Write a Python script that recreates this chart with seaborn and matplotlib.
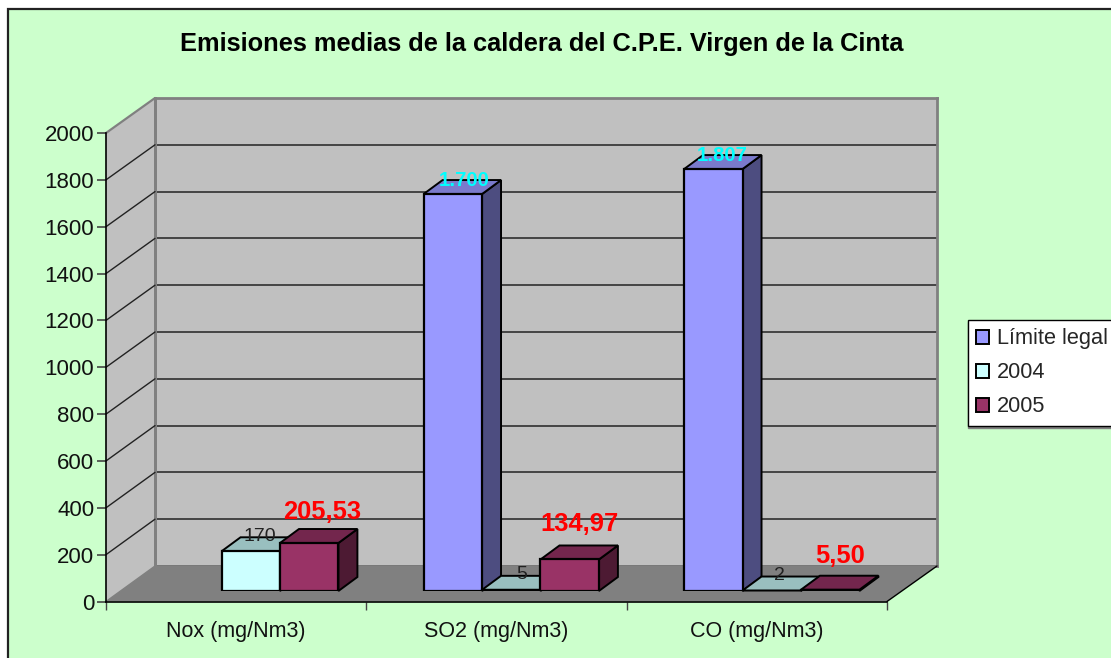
import matplotlib
matplotlib.use("Agg")
import numpy as np
import pandas as pd
import seaborn as sns
import matplotlib.pyplot as plt
from matplotlib.patches import Polygon, Rectangle, Patch
from matplotlib.lines import Line2D
from matplotlib.transforms import IdentityTransform

# Data
categories = ["Nox (mg/Nm3)", "SO2 (mg/Nm3)", "CO (mg/Nm3)"]
series_names = ["Límite legal", "2004", "2005"]
limite_legal = [np.nan, 1700, 1807]
year_2004 = [170, 5, 2]
year_2005 = [205.53, 134.97, 5.50]
labels_limite = ["", "1.700", "1.807"]
labels_2004 = ["170", "5", "2"]
labels_2005 = ["205,53", "134,97", "5,50"]
y_ticks = list(range(0, 2001, 200))
title = "Emisiones medias de la caldera del C.P.E. Virgen de la Cinta"

# Colours
face_colors = ["#9999FF", "#CCFFFF", "#993366"]
top_colors = ["#7A7ACC", "#99BFBF", "#73264D"]
side_colors = ["#4D4D80", "#668080", "#4D1A33"]

W, H = 1111, 658
BAR_DX, BAR_DY = 19, 14

sns.set_theme(style="white")
plt.rcParams["font.family"] = ["Liberation Sans", "DejaVu Sans"]

df = pd.DataFrame({
    "categoria": categories * 3,
    "serie": np.repeat(series_names, 3),
    "valor": limite_legal + year_2004 + year_2005,
})

fig = plt.figure(figsize=(W / 100, H / 100), dpi=100, facecolor="white")
fig.add_artist(Rectangle((8 / W, -0.05), 1.1, 1.05 - 9 / H, transform=fig.transFigure,
                         facecolor="#CCFFCC", edgecolor="#222222", linewidth=1.6))


def px_axes(x0, x1, y_bottom, y_top, z):
    a = fig.add_axes([x0 / W, 1 - y_bottom / H, (x1 - x0) / W, (y_bottom - y_top) / H], zorder=z)
    a.set_ylim(0, 2000)
    return a


# back wall, front plane, and the plane the bars stand on
ax_wall = px_axes(155, 937, 566, 98, 1)
ax_front = px_axes(106, 887, 601.5, 133, 2)
ax = px_axes(120.5, 902, 591, 124, 3)

ax_wall.set_xlim(0, 3)
ax_wall.set_facecolor("#C0C0C0")
ax_wall.set_xticks([])
ax_wall.set_yticks(y_ticks)
ax_wall.tick_params(left=False, labelleft=False)
ax_wall.grid(axis="y", color="#3A3A3A", linewidth=1.3)
for s in ax_wall.spines.values():
    s.set_color("#808080")
    s.set_linewidth(2)

ax_front.set_xlim(0, 3)
ax_front.patch.set_alpha(0)
ax_front.set_yticks(y_ticks)
ax_front.set_xticks([0, 1, 2, 3])
ax_front.set_xticklabels([])
ax_front.set_xticks([0.5, 1.5, 2.5], minor=True)
ax_front.set_xticklabels(categories, minor=True, fontsize=15.5, color="#111111")
ax_front.tick_params(axis="y", left=True, length=6.5, width=1.2, color="#444444", labelsize=16, pad=2, labelcolor="#111111")
ax_front.tick_params(axis="x", which="major", bottom=True, length=6, width=1, color="#444444")
ax_front.tick_params(axis="x", which="minor", bottom=False, pad=10)
for name in ["top", "right"]:
    ax_front.spines[name].set_visible(False)
for name in ["left", "bottom"]:
    ax_front.spines[name].set_color("black")
    ax_front.spines[name].set_linewidth(1.2)

# side wall and floor between front plane and back wall
f_bl = ax_front.transData.transform((0, 0))
f_br = ax_front.transData.transform((3, 0))
w_bl = ax_wall.transData.transform((0, 0))
w_br = ax_wall.transData.transform((3, 0))
f_tl = ax_front.transData.transform((0, 2000))
w_tl = ax_wall.transData.transform((0, 2000))
ident = IdentityTransform()
ax_wall.add_patch(Polygon([f_bl, w_bl, w_tl, f_tl], closed=True, transform=ident, clip_on=False,
                          facecolor="#C0C0C0", edgecolor="none", zorder=1))
ax_wall.add_patch(Polygon([f_bl, f_br, w_br, w_bl], closed=True, transform=ident, clip_on=False,
                          facecolor="#808080", edgecolor="none", zorder=3))
ax_wall.add_line(Line2D([f_tl[0], w_tl[0]], [f_tl[1], w_tl[1]], transform=ident, clip_on=False,
                        color="#808080", linewidth=1.6, zorder=4))
ax_wall.add_line(Line2D([w_bl[0], w_bl[0]], [w_bl[1], w_tl[1]], transform=ident, clip_on=False,
                        color="#808080", linewidth=2, zorder=4))
ax_wall.add_line(Line2D([f_br[0], w_br[0]], [f_br[1], w_br[1]], transform=ident, clip_on=False,
                        color="black", linewidth=1, zorder=4))
ax_wall.add_line(Line2D([f_bl[0], w_bl[0]], [f_bl[1], w_bl[1]], transform=ident, clip_on=False,
                        color="#808080", linewidth=1, zorder=4))
for v in y_ticks[1:-1]:
    a = ax_front.transData.transform((0, v))
    b = ax_wall.transData.transform((0, v))
    ax_wall.add_line(Line2D([a[0], b[0]], [a[1], b[1]], transform=ident, clip_on=False,
                            color="#222222", linewidth=1, zorder=4))

# Bars
sns.barplot(data=df, x="categoria", y="valor", hue="serie", order=categories, hue_order=series_names,
            palette=face_colors, saturation=1, width=0.673, gap=0, edgecolor="black", linewidth=1.6,
            errorbar=None, legend=False, ax=ax)
ax.set_xlim(-0.5, 2.5)
ax.set_ylim(0, 2000)
ax.patch.set_alpha(0)
ax.axis("off")

all_labels = [labels_limite, labels_2004, labels_2005]
label_style = [
    dict(color="#00FFFF", fontsize=14.7, fontweight="bold"),
    dict(color="#222222", fontsize=14),
    dict(color="#FF0000", fontsize=18.4, fontweight="bold"),
]
# label offsets in pixels, per series and category
label_dx = [[10, 11, 9], [9, 10, 8], [13, 10, 10]]
label_dy = [[13, 14, 14], [15, 15, 15], [31, 35, 34]]

bars = []
for s, container in enumerate(ax.containers):
    for bar in container:
        x = bar.get_x()
        c = int(round(x + bar.get_width() / 2))
        bars.append((x, s, c, bar))
bars.sort(key=lambda b: b[0])

for order, (x, s, c, bar) in enumerate(bars):
    z = 2 + order * 0.1
    bar.set_zorder(z + 0.02)
    h = bar.get_height()
    w = bar.get_width()
    br = ax.transData.transform((x + w, 0))
    tl = ax.transData.transform((x, h))
    tr = ax.transData.transform((x + w, h))
    off = np.array([BAR_DX, BAR_DY])
    ax.add_patch(Polygon([br, br + off, tr + off, tr], closed=True, transform=ident, clip_on=False,
                         facecolor=side_colors[s], edgecolor="black", linewidth=1.4, zorder=z))
    ax.add_patch(Polygon([tl, tr, tr + off, tl + off], closed=True, transform=ident, clip_on=False,
                         facecolor=top_colors[s], edgecolor="black", linewidth=1.4, zorder=z + 0.01))
    ax.annotate(all_labels[s][c], xy=(x + w / 2, h), xytext=(label_dx[s][c], label_dy[s][c]),
                textcoords="offset pixels", ha="center", va="center", zorder=10,
                annotation_clip=False, **label_style[s])

# Legend
handles = [Patch(facecolor=c, edgecolor="black", linewidth=1.4) for c in face_colors]
leg = fig.legend(handles, series_names, loc="upper left", bbox_to_anchor=(968 / W, 1 - 320 / H),
                 bbox_transform=fig.transFigure, fontsize=15.7, frameon=True, fancybox=False,
                 framealpha=1, edgecolor="black", facecolor="white", handlelength=0.6,
                 handleheight=0.6, handletextpad=0.36, labelspacing=0.6, borderpad=0.38,
                 borderaxespad=0, shadow={"ox": 0, "oy": -1.5, "color": "#808080", "alpha": 1, "shade": 1})
leg.get_frame().set_linewidth(1)
leg.set_zorder(20)

fig.text(542 / W, 1 - 43.5 / H, title, ha="center", va="center", fontsize=18.3, fontweight="bold", color="black")

fig.savefig("out.png", dpi=100, facecolor=fig.get_facecolor())
